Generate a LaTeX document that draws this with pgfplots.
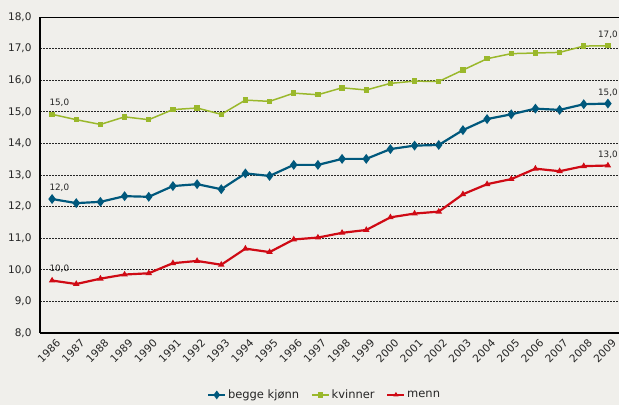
\documentclass[border=0pt]{standalone}
\usepackage{pgfplots}
\pgfplotsset{compat=1.18}
\usepackage{fontspec}
\setmainfont{DejaVu Sans}
\definecolor{bg}{HTML}{F0EFEB}
\definecolor{cblue}{HTML}{00587C}
\definecolor{cgreen}{HTML}{9AB82B}
\definecolor{cred}{HTML}{CF0A14}
\definecolor{txt}{HTML}{262626}

\begin{document}
\begin{tikzpicture}
\fill[bg, use as bounding box] (0,0) rectangle (619bp,405bp);
\begin{axis}[
  at={(40bp,72bp)}, anchor=south west,
  scale only axis, width=580bp, height=316bp,
  xmin=1985.5, xmax=2009.5, ymin=8, ymax=18,
  axis lines*=left,
  axis line style={black, line width=1.1pt},
  xtick={1986,...,2009},
  ytick={8,9,...,18},
  major tick length=0pt,
  minor x tick num=1,
  minor tick length=4bp,
  minor tick style={black, line width=0.8pt},
  tick align=outside,
  ymajorgrids=true,
  grid style={black!85, line width=0.6pt, dash pattern=on 2bp off 1bp},
  yticklabel style={/pgf/number format/.cd, fixed, fixed zerofill, precision=1, use comma, /tikz/.cd,
    font=\fontsize{10.5bp}{12bp}\selectfont, text=txt, xshift=-5bp},
  xticklabel style={/pgf/number format/.cd, set thousands separator={}, /tikz/.cd,
    rotate=45, anchor=north east, font=\fontsize{10.5bp}{12bp}\selectfont, text=txt,
    xshift=2bp, yshift=-3bp},
  /pgf/number format/assume math mode=true,
  legend columns=3,
  legend style={at={(0.491,-0.196)}, anchor=center, draw=none, fill=none,
    font=\fontsize{11.5bp}{13bp}\selectfont, text=txt,
    /tikz/every even column/.append style={column sep=10bp}},
  legend image post style={line width=1.5pt},
  clip=false,
]
\addplot[cblue, line width=2.2pt, mark=diamond*, mark size=3.2pt, mark options={solid}]
coordinates {(1986,12.24) (1987,12.11) (1988,12.15) (1989,12.33) (1990,12.31)
  (1991,12.65) (1992,12.71) (1993,12.55) (1994,13.05) (1995,12.97)
  (1996,13.32) (1997,13.32) (1998,13.51) (1999,13.51) (2000,13.82)
  (2001,13.93) (2002,13.95) (2003,14.42) (2004,14.77) (2005,14.92)
  (2006,15.10) (2007,15.06) (2008,15.24) (2009,15.26)};
\addlegendentry{begge kjønn}
\addplot[cgreen, line width=1.5pt, mark=square*, mark size=2pt]
coordinates {(1986,14.92) (1987,14.75) (1988,14.60) (1989,14.84) (1990,14.75)
  (1991,15.07) (1992,15.12) (1993,14.92) (1994,15.37) (1995,15.33)
  (1996,15.59) (1997,15.54) (1998,15.76) (1999,15.69) (2000,15.90)
  (2001,15.97) (2002,15.96) (2003,16.32) (2004,16.68) (2005,16.84)
  (2006,16.86) (2007,16.88) (2008,17.08) (2009,17.09)};
\addlegendentry{kvinner}
\addplot[cred, line width=2.2pt, mark=triangle*, mark size=1.6pt]
coordinates {(1986,9.66) (1987,9.55) (1988,9.72) (1989,9.85) (1990,9.89)
  (1991,10.21) (1992,10.28) (1993,10.16) (1994,10.67) (1995,10.56)
  (1996,10.96) (1997,11.02) (1998,11.17) (1999,11.26) (2000,11.66)
  (2001,11.78) (2002,11.84) (2003,12.39) (2004,12.71) (2005,12.87)
  (2006,13.20) (2007,13.12) (2008,13.28) (2009,13.30)};
\addlegendentry{menn}
\draw[black, line width=0.8pt] (axis cs:1985.5,18) -- (axis cs:2009.5,18);
\begin{scope}[every node/.style={font=\fontsize{8.8bp}{10bp}\selectfont, text=txt, anchor=south}]
\node at (axis cs:1986.3,15.05) {15,0};
\node at (axis cs:1986.3,12.37) {12,0};
\node at (axis cs:1986.3,9.80) {10,0};
\node at (axis cs:2009,17.20) {17,0};
\node at (axis cs:2009,15.38) {15,0};
\node at (axis cs:2009,13.40) {13,0};
\end{scope}
\end{axis}
\end{tikzpicture}
\end{document}
